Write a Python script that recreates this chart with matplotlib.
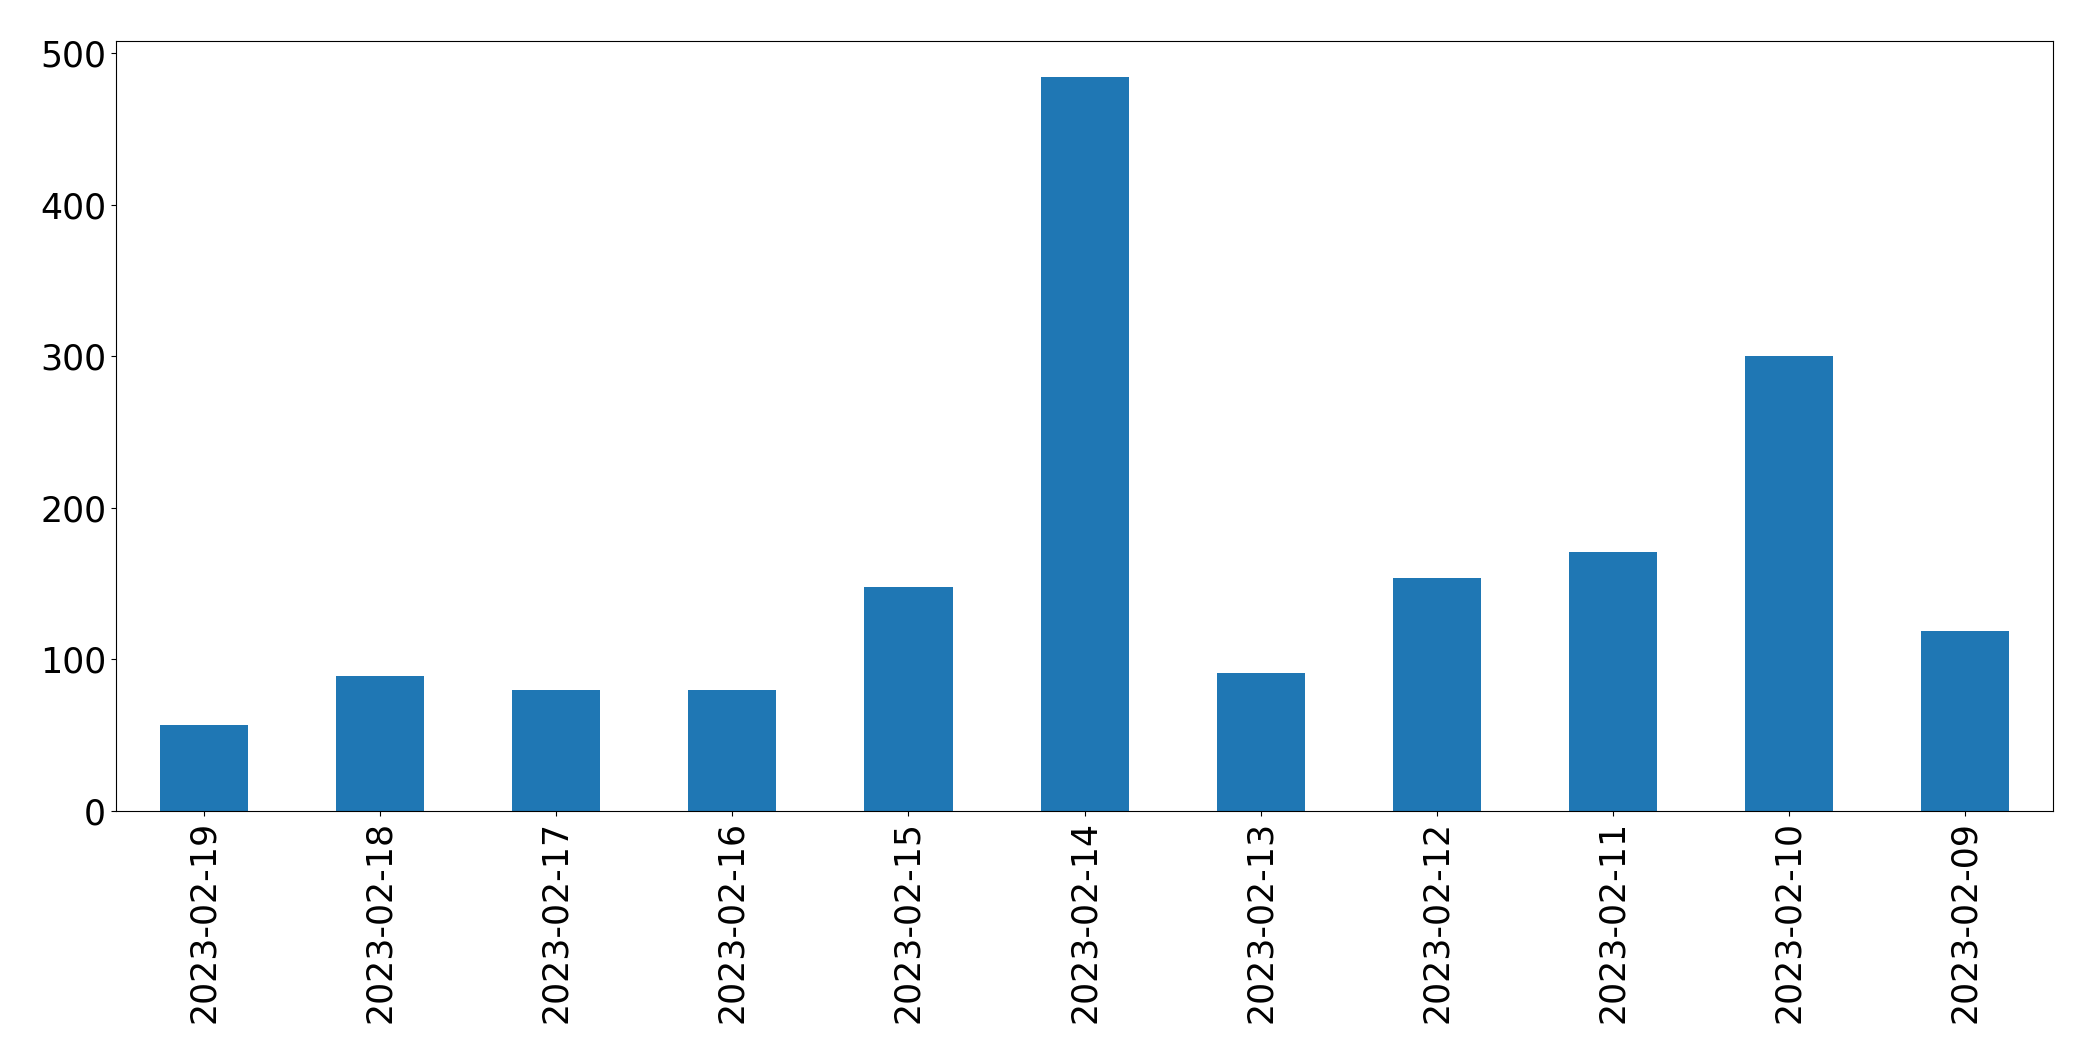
import matplotlib

matplotlib.use("Agg")

import matplotlib.pyplot as plt

dates = [
    "2023-02-19", "2023-02-18", "2023-02-17", "2023-02-16", "2023-02-15",
    "2023-02-14", "2023-02-13", "2023-02-12", "2023-02-11", "2023-02-10",
    "2023-02-09",
]
counts = [57, 89, 80, 80, 148, 484, 91, 154, 171, 300, 119]

fig = plt.figure(figsize=(20.93, 10.63), dpi=100)
ax = fig.add_axes([0.0554, 0.237, 0.9256, 0.7247])
positions = list(range(len(dates)))
ax.bar(positions, counts, width=0.5, color="#1f77b4")
ax.set_xlim(-0.5, len(dates) - 0.5)
ax.set_ylim(0, max(counts) * 1.05)
ax.set_xticks(positions)
ax.set_xticklabels(dates, rotation=90)
ax.tick_params(axis="both", labelsize=25)
fig.savefig("out.png", dpi=100)
